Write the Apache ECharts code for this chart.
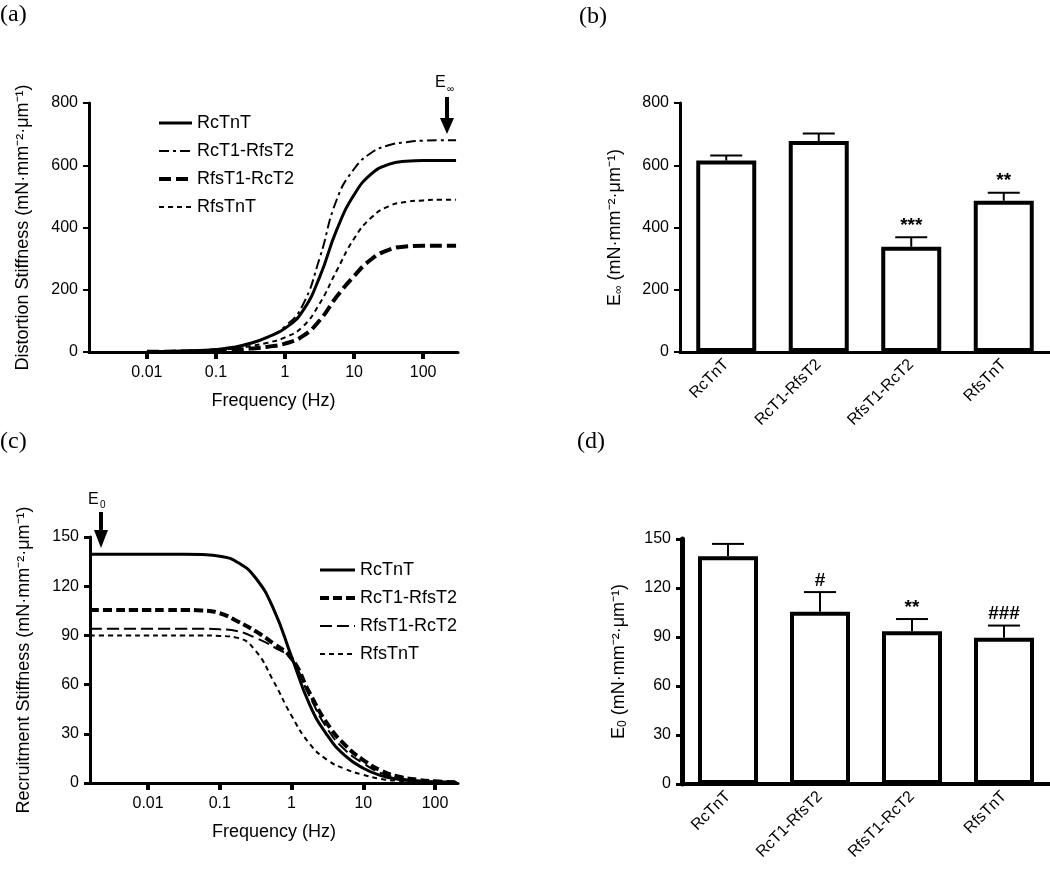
<!DOCTYPE html>
<html><head><meta charset="utf-8">
<script src="https://cdn.jsdelivr.net/npm/echarts@6/dist/echarts.min.js"></script>
<style>html,body{margin:0;padding:0;background:#fff}#c{width:1050px;height:876px}</style>
</head><body><div id="c"></div>
<script>
// ---- data ----
const seriesNames = ['RcTnT', 'RcT1-RfsT2', 'RfsT1-RcT2', 'RfsTnT'];
const logTicks = [0.01, 0.1, 1, 10, 100];

// (a) distortion stiffness vs frequency
const freqA = [0.01, 0.0178, 0.0316, 0.0562, 0.1, 0.178, 0.316, 0.562, 1, 1.78, 3.16, 5.62, 10, 17.8, 31.6, 56.2, 100, 178, 300];
const aRcTnT     = [1, 2, 3, 5, 8, 15, 28, 48, 76, 130, 240, 393, 505, 572, 603, 613, 615, 615, 615];
const aRcT1RfsT2 = [1, 2, 3, 5, 9, 15, 27, 48, 82, 148, 300, 490, 588, 640, 664, 674, 679, 680, 680];
const aRfsT1RcT2 = [0.5, 1, 1.5, 2.5, 4, 7, 11, 17, 27, 50, 101, 178, 244, 298, 328, 339, 341, 341, 341];
const aRfsTnT    = [1, 1.5, 2, 4, 6, 11, 19, 30, 47, 80, 155, 262, 364, 432, 468, 482, 487, 489, 489];

// (c) recruitment stiffness vs frequency
const freqC = [0.00155, 0.00316, 0.00562, 0.01, 0.0178, 0.0316, 0.0562, 0.1, 0.178, 0.316, 0.562, 1, 1.78, 3.16, 5.62, 10, 17.8, 31.6, 56.2, 100, 200];
const cRcTnT     = [139.5, 139.5, 139.5, 139.5, 139.5, 139.5, 139.3, 138.3, 134.5, 125, 106, 77, 48, 29, 16.5, 9, 4.5, 2.2, 1.2, 0.7, 0.3];
const cRcT1RfsT2 = [105.5, 105.5, 105.5, 105.5, 105.5, 105.5, 105.2, 103.5, 98.5, 92.5, 85, 76, 55, 36, 23, 14, 7.5, 3.8, 2, 1, 0.4];
const cRfsT1RcT2 = [94, 94, 94, 94, 94, 94, 94, 93.7, 92.5, 88.5, 83, 75, 53, 33, 20, 12, 6, 3, 1.5, 0.8, 0.3];
const cRfsTnT    = [90, 90, 90, 90, 90, 90, 90, 89.7, 88.5, 80.5, 62, 41, 24, 14, 8.5, 5, 2.5, 1.3, 0.7, 0.4, 0.2];

// (b) E-infinity bars
const barCats = ['RcTnT', 'RcT1-RfsT2', 'RfsT1-RcT2', 'RfsTnT'];
const bMean   = [615, 678, 338, 486];
const bErrTop = [631, 702, 369, 512];
const bSig    = ['', '', '***', '**'];

// (d) E0 bars
const dMean   = [139.5, 105.5, 93.5, 89.5];
const dErrTop = [147, 117.5, 101, 97];
const dSig    = ['', '#', '**', '###'];

// ---- chart ----
const FF = 'Liberation Sans, Arial, sans-serif';
const SERIF = 'Liberation Serif, Times New Roman, serif';
const aVals = [aRcTnT, aRcT1RfsT2, aRfsT1RcT2, aRfsTnT];
const cVals = [cRcTnT, cRcT1RfsT2, cRfsT1RcT2, cRfsTnT];
const aStyles = [{width: 3, type: 'solid'}, {width: 2, type: [10, 4, 3, 4]}, {width: 4, type: [12, 5]}, {width: 2, type: [5, 4]}];
const cStyles = [{width: 3, type: 'solid'}, {width: 4, type: [9, 4]}, {width: 2, type: [12, 5]}, {width: 2, type: [5, 4]}];

const chart = echarts.init(document.getElementById('c'), null, {renderer: 'canvas'});

function fmtLog(v) { return String(Number(Number(v).toPrecision(3))); }

function logXAxis(grid, min, max) {
  return {
    gridIndex: grid, type: 'log', logBase: 10, min: min, max: max,
    axisLine: {show: true, lineStyle: {color: '#000', width: 3}},
    axisTick: {show: true, customValues: logTicks, length: 7, lineStyle: {color: '#000', width: 4}},
    axisLabel: {customValues: logTicks, formatter: fmtLog, fontSize: 16, color: '#000', fontFamily: FF, margin: 13},
    splitLine: {show: false}, minorTick: {show: false},
    name: 'Frequency (Hz)', nameLocation: 'middle', nameGap: 40,
    nameTextStyle: {fontSize: 18, color: '#000', fontFamily: FF}
  };
}
function valYAxis(grid, max, interval, name, gap, lw, tw) {
  return {
    gridIndex: grid, type: 'value', min: 0, max: max, interval: interval,
    axisLine: {show: true, lineStyle: {color: '#000', width: lw}},
    axisTick: {show: true, length: 6, lineStyle: {color: '#000', width: tw}},
    axisLabel: {fontSize: 16, color: '#000', fontFamily: FF, margin: 11},
    splitLine: {show: false},
    name: name, nameLocation: 'middle', nameGap: gap,
    nameTextStyle: {fontSize: 18, color: '#000', fontFamily: FF,
      rich: {s: {fontSize: 12, fontFamily: FF, color: '#000', padding: [8, 0, 0, 0]}, n: {fontSize: 18, fontFamily: FF, color: '#000'}}}
  };
}
function catXAxis(grid, lw) {
  return {
    gridIndex: grid, type: 'category', data: barCats,
    axisLine: {show: true, lineStyle: {color: '#000', width: lw}},
    axisTick: {show: false},
    axisLabel: {rotate: 45, interval: 0, fontSize: 16, color: '#000', fontFamily: FF, margin: 10},
    splitLine: {show: false}
  };
}
function errRender(sig) {
  return function (params, api) {
    const i = api.value(0);
    const p0 = api.coord([i, api.value(1)]);
    const p1 = api.coord([i, api.value(2)]);
    const hw = 16;
    return {type: 'group', children: [
      {type: 'line', shape: {x1: p0[0], y1: p0[1], x2: p1[0], y2: p1[1]}, style: {stroke: '#000', lineWidth: 2}},
      {type: 'line', shape: {x1: p1[0] - hw, y1: p1[1], x2: p1[0] + hw, y2: p1[1]}, style: {stroke: '#000', lineWidth: 2}},
      {type: 'text', style: {text: sig[params.dataIndex], x: p1[0], y: p1[1] - 2, align: 'center', verticalAlign: 'bottom',
        fontSize: 19, fontWeight: 'bold', fontFamily: FF, fill: '#000'}}
    ]};
  };
}

const series = [];
seriesNames.forEach((n, k) => {
  series.push({
    name: 'a:' + n, type: 'line', xAxisIndex: 0, yAxisIndex: 0,
    data: freqA.map((f, i) => [f, aVals[k][i]]),
    showSymbol: false, symbol: 'none', smooth: 0.5,
    lineStyle: Object.assign({color: '#000'}, aStyles[k]), itemStyle: {color: '#000'}, z: 3
  });
});
seriesNames.forEach((n, k) => {
  series.push({
    name: 'c:' + n, type: 'line', xAxisIndex: 2, yAxisIndex: 2,
    data: freqC.map((f, i) => [f, cVals[k][i]]),
    showSymbol: false, symbol: 'none', smooth: 0.5,
    lineStyle: Object.assign({color: '#000'}, cStyles[k]), itemStyle: {color: '#000'}, z: 3
  });
});
series.push({
  name: 'bbars', type: 'bar', xAxisIndex: 1, yAxisIndex: 1, data: bMean, barWidth: 60,
  itemStyle: {color: '#fff', borderColor: '#000', borderWidth: 4}, z: 2
});
series.push({
  name: 'berr', type: 'custom', xAxisIndex: 1, yAxisIndex: 1, renderItem: errRender(bSig),
  data: barCats.map((c, i) => [i, bMean[i], bErrTop[i]]), z: 4
});
series.push({
  name: 'dbars', type: 'bar', xAxisIndex: 3, yAxisIndex: 3, data: dMean, barWidth: 60,
  itemStyle: {color: '#fff', borderColor: '#000', borderWidth: 4}, z: 2
});
series.push({
  name: 'derr', type: 'custom', xAxisIndex: 3, yAxisIndex: 3, renderItem: errRender(dSig),
  data: barCats.map((c, i) => [i, dMean[i], dErrTop[i]]), z: 4
});

function legendFor(prefix, styles, left, top, w) {
  return {
    show: true, orient: 'vertical', left: left, top: top, itemWidth: w, itemHeight: 20, itemGap: 8,
    selectedMode: false, padding: 0,
    itemStyle: {opacity: 0, borderWidth: 0},
    textStyle: {fontSize: 18, color: '#000', fontFamily: FF, lineHeight: 20},
    formatter: n => n.slice(2),
    data: seriesNames.map((n, k) => ({name: prefix + n, lineStyle: {width: styles[k].width}, itemStyle: {opacity: 0, borderWidth: 0}}))
  };
}

const option = {
  animation: false,
  backgroundColor: '#fff',
  grid: [
    {left: 89, top: 103, width: 369, height: 249},
    {left: 680, top: 103, width: 370, height: 249},
    {left: 90, top: 537, width: 368, height: 246},
    {left: 682, top: 539, width: 368, height: 245}
  ],
  xAxis: [logXAxis(0, 0.00145, 320), catXAxis(1, 3), logXAxis(2, 0.00155, 209), catXAxis(3, 4)],
  yAxis: [
    valYAxis(0, 800, 200, 'Distortion Stiffness (mN·mm⁻²·μm⁻¹)', 57, 3, 2),
    valYAxis(1, 800, 200, '{n|E}{s|∞}{n| (mN·mm⁻²·μm⁻¹)}', 55, 3, 2),
    valYAxis(2, 150, 30, 'Recruitment Stiffness (mN·mm⁻²·μm⁻¹)', 57, 3, 3),
    valYAxis(3, 150, 30, '{n|E}{s|0}{n| (mN·mm⁻²·μm⁻¹)}', 53, 5, 3)
  ],
  legend: [legendFor('a:', aStyles, 157, 113, 33), legendFor('c:', cStyles, 318, 560, 35)],
  series: series,
  graphic: [
    {type: 'text', left: 0, top: 3, style: {text: '(a)', fontSize: 24, fontFamily: SERIF, fill: '#000'}},
    {type: 'text', left: 579, top: 5, style: {text: '(b)', fontSize: 24, fontFamily: SERIF, fill: '#000'}},
    {type: 'text', left: 0, top: 430, style: {text: '(c)', fontSize: 24, fontFamily: SERIF, fill: '#000'}},
    {type: 'text', left: 577, top: 430, style: {text: '(d)', fontSize: 24, fontFamily: SERIF, fill: '#000'}},
    // E-infinity arrow (a)
    {type: 'text', left: 435, top: 75, style: {text: 'E', fontSize: 16, fontFamily: FF, fill: '#000'}},
    {type: 'text', left: 447, top: 84, style: {text: '∞', fontSize: 10, fontFamily: FF, fill: '#000'}},
    {type: 'line', shape: {x1: 447, y1: 97, x2: 447, y2: 121}, style: {stroke: '#000', lineWidth: 4}},
    {type: 'polygon', shape: {points: [[440, 118], [454, 118], [447, 134]]}, style: {fill: '#000'}},
    // E0 arrow (c)
    {type: 'text', left: 88, top: 492, style: {text: 'E', fontSize: 16, fontFamily: FF, fill: '#000'}},
    {type: 'text', left: 100, top: 500, style: {text: '0', fontSize: 10, fontFamily: FF, fill: '#000'}},
    {type: 'line', shape: {x1: 101, y1: 512, x2: 101, y2: 533}, style: {stroke: '#000', lineWidth: 4}},
    {type: 'polygon', shape: {points: [[94, 530], [108, 530], [101, 548]]}, style: {fill: '#000'}}
  ]
};
chart.setOption(option);
</script></body></html>
